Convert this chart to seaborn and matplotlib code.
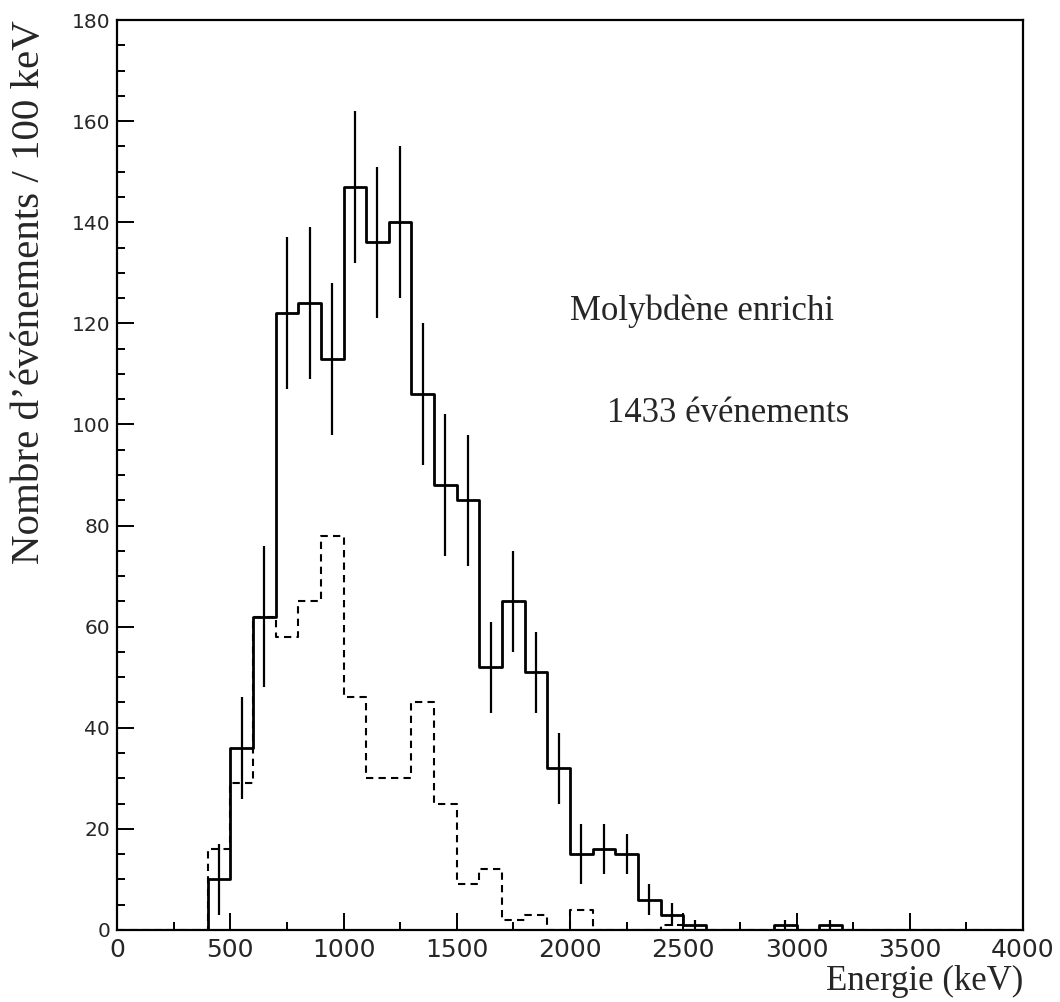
import numpy as np
import pandas as pd
import matplotlib
matplotlib.use("Agg")
import matplotlib.pyplot as plt
import seaborn as sns

# Histogram data, 100 keV bins (lower edges in keV)
bin_low = [400, 500, 600, 700, 800, 900, 1000, 1100, 1200, 1300, 1400, 1500,
           1600, 1700, 1800, 1900, 2000, 2100, 2200, 2300, 2400, 2500,
           2900, 3100]
counts_total = [10, 36, 62, 122, 124, 113, 147, 136, 140, 106, 88, 85,
                52, 65, 51, 32, 15, 16, 15, 6, 3, 1,
                1, 1]
counts_errors = [7, 10, 14, 15, 15, 15, 15, 15, 15, 14, 14, 13,
                 9, 10, 8, 7, 6, 5, 4, 3, 2.3, 1,
                 1, 1]

# dashed histogram
dash_low = [400, 500, 600, 700, 800, 900, 1000, 1100, 1200, 1300, 1400,
            1500, 1600, 1700, 1800, 2000, 2400]
counts_dash = [16, 29, 62, 58, 65, 78, 46, 30, 30, 45, 25,
               9, 12, 2, 3, 4, 1]

BIN = 100
edges = [float(e) for e in range(0, 4000 + BIN, BIN)]
centers = [e + BIN / 2 for e in edges[:-1]]


def full_bins(lows, vals):
    h = np.zeros(len(centers))
    for lo, v in zip(lows, vals):
        h[int(lo // BIN)] = v
    return h


df = pd.DataFrame({
    "energy": centers,
    "total": full_bins(bin_low, counts_total),
    "dash": full_bins(dash_low, counts_dash),
})

sns.set_style("ticks")
plt.rcParams['font.family'] = ['DejaVu Sans']

fig = plt.figure(figsize=(10.6, 10.02), dpi=100)
ax = fig.add_axes([0.1104, 0.0719, 0.8547, 0.9081])

sns.histplot(data=df, x="energy", weights="total", bins=edges, element="step",
             fill=False, color="black", linewidth=2.0, ax=ax)
sns.histplot(data=df, x="energy", weights="dash", bins=edges, element="step",
             fill=False, color="black", linewidth=1.5, linestyle=(0, (3.5, 2.5)), ax=ax)

# error bars (no caps)
ec = [lo + BIN / 2 for lo in bin_low]
ax.errorbar(ec, counts_total, yerr=counts_errors, fmt="none",
            ecolor="black", elinewidth=1.6, capsize=0)

ax.set_xlim(0, 4000)
ax.set_ylim(0, 180)
ax.set_xticks(np.arange(0, 4001, 500))
ax.set_xticks(np.arange(0, 4001, 250), minor=True)
ax.set_yticks(np.arange(0, 181, 20))
ax.set_yticks(np.arange(0, 181, 5), minor=True)

ax.tick_params(which="both", direction="in", top=False, right=False, width=1.4, color="black")
ax.tick_params(which="major", length=12)
ax.tick_params(which="minor", length=6)
ax.tick_params(axis="x", labelsize=18, pad=6)
ax.tick_params(axis="y", labelsize=14.5, pad=5)
for s in ax.spines.values():
    s.set_visible(True)
    s.set_linewidth(1.6)
    s.set_color("black")

serif = ['Liberation Serif', 'DejaVu Serif']
ax.set_xlabel("Energie (keV)", family=serif, fontsize=25, loc="right")
ax.xaxis.set_label_coords(1.0, -0.038)
ax.set_ylabel("Nombre d\u2019\u00e9v\u00e9nements / 100 keV", family=serif,
              fontsize=29.5, loc="top")
ax.yaxis.set_label_coords(-0.076, 1.0)

ax.text(2000, 122.4, "Molybd\u00e8ne enrichi", family=serif, fontsize=25,
        ha="left", va="center")
ax.text(2163, 102.2, "1433 \u00e9v\u00e9nements", family=serif, fontsize=25,
        ha="left", va="center")

fig.savefig("out.png", dpi=100, facecolor="white")
